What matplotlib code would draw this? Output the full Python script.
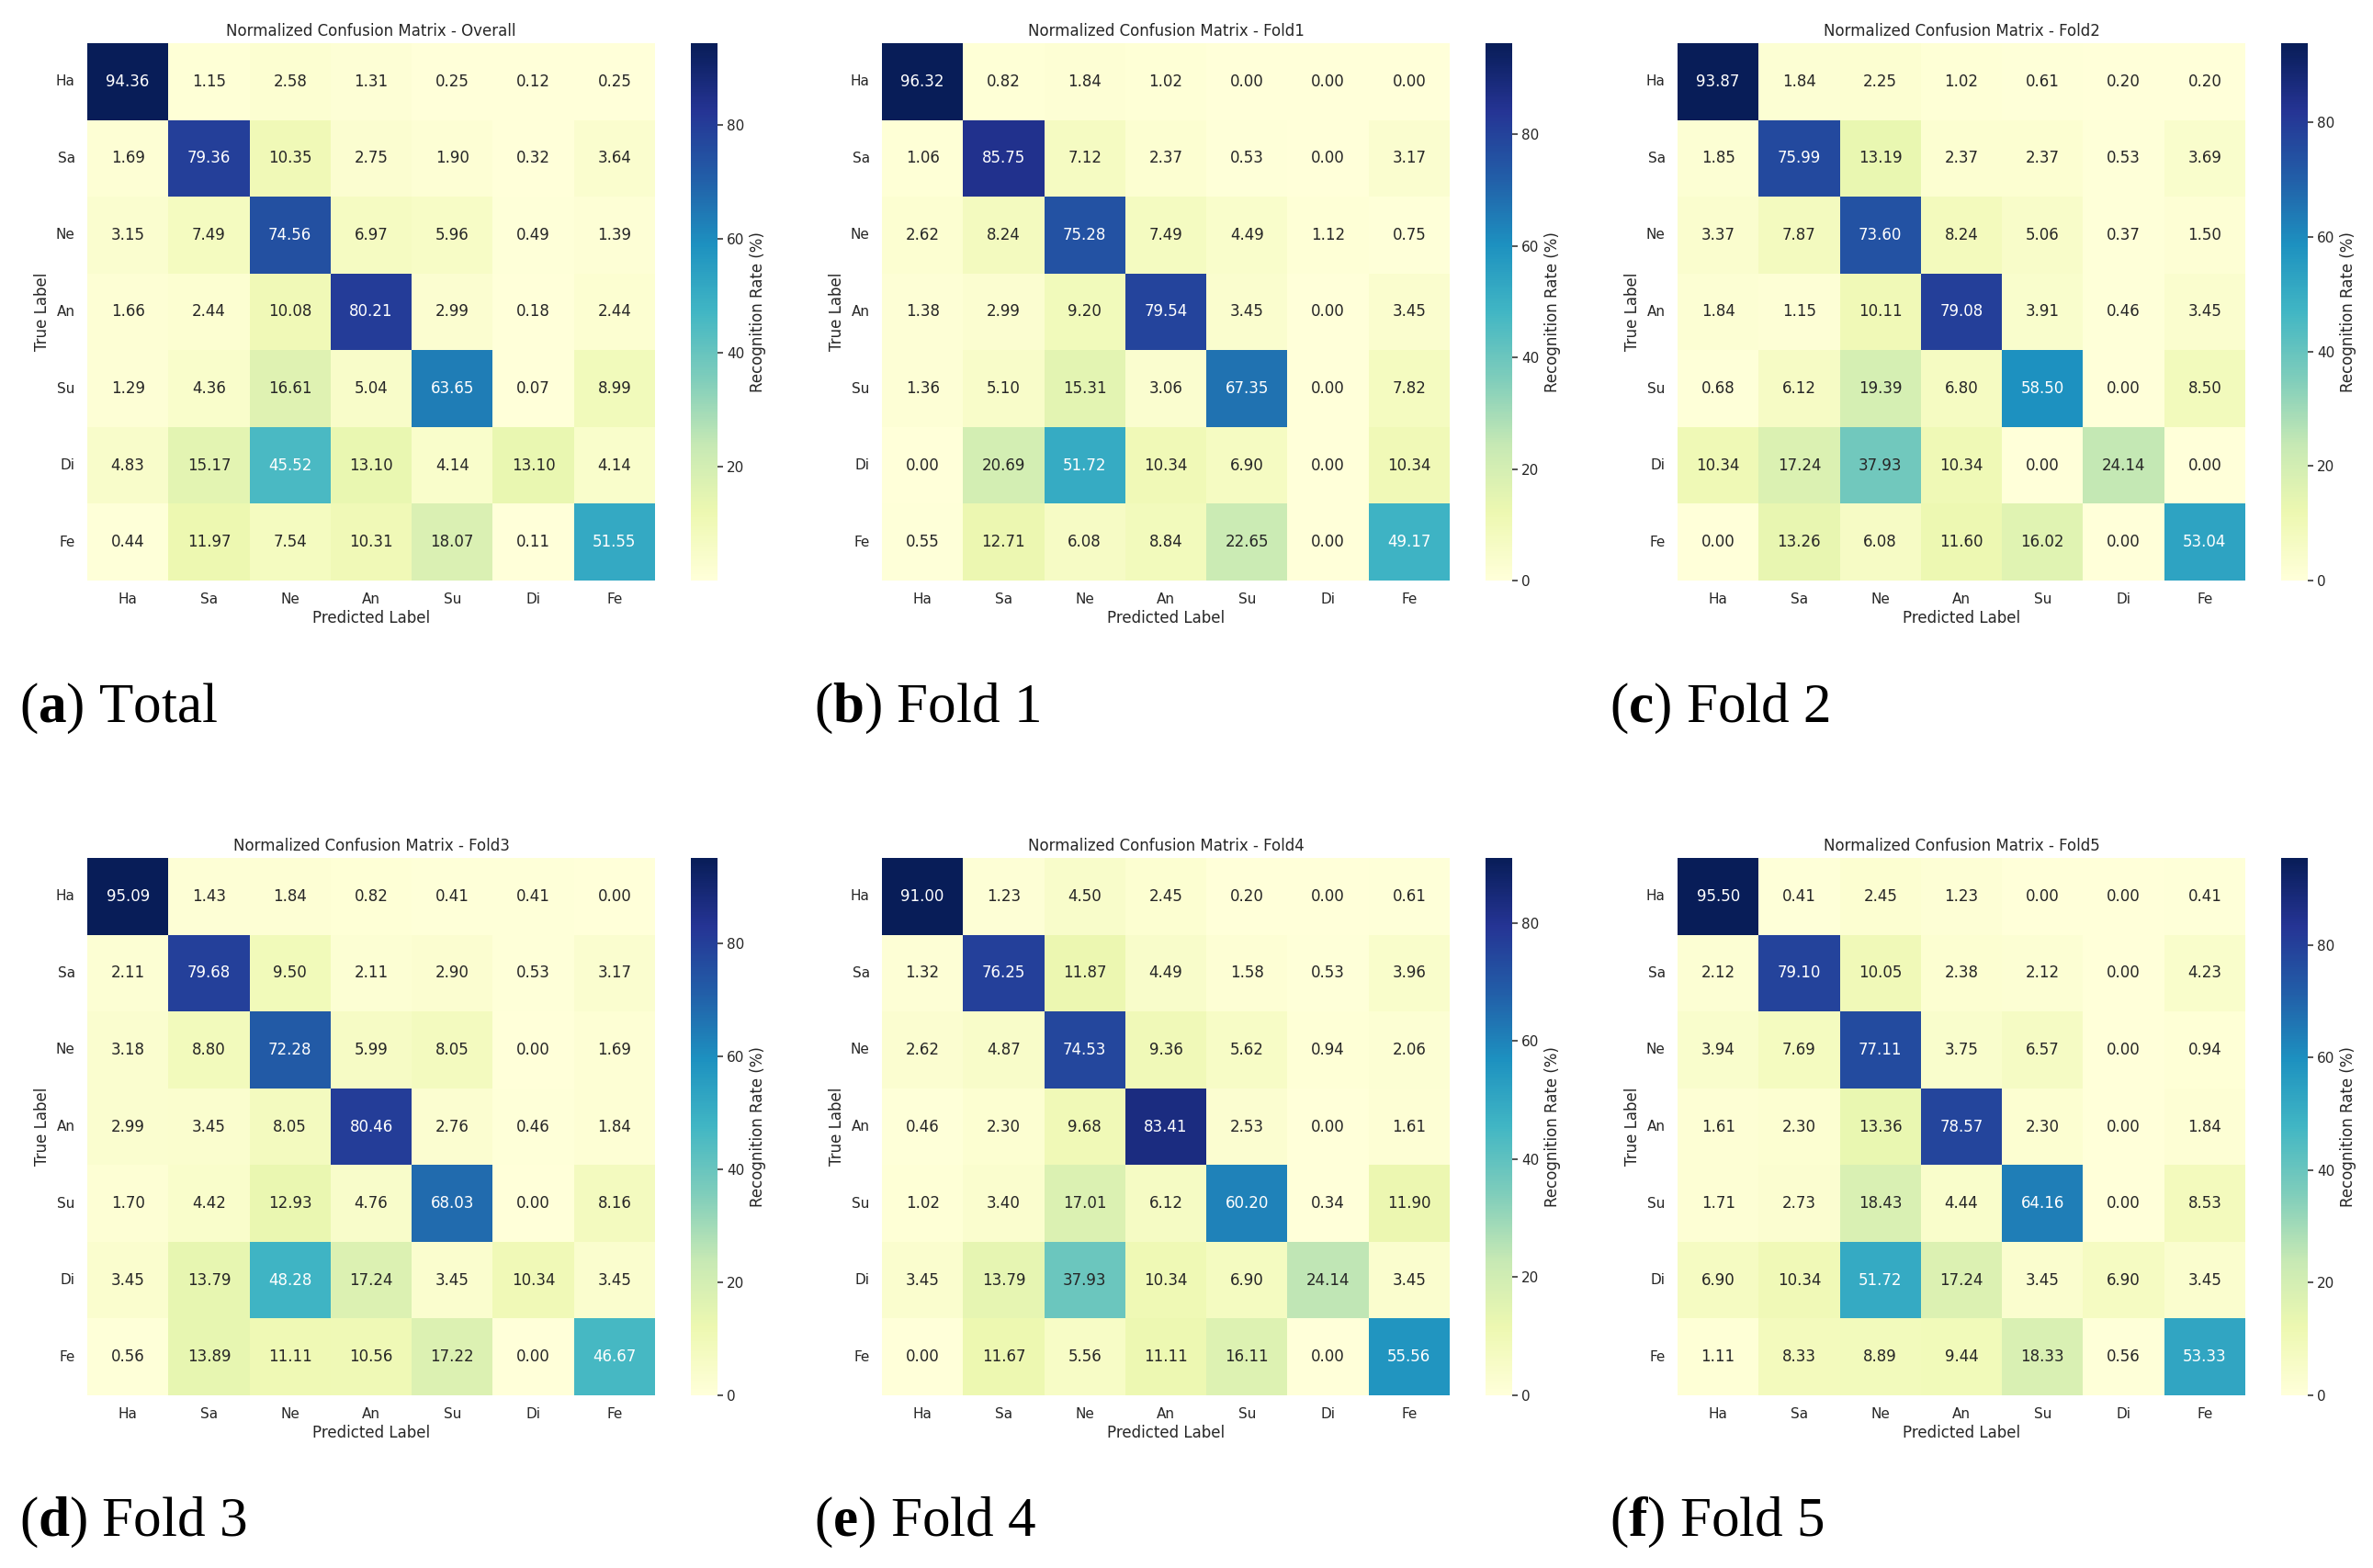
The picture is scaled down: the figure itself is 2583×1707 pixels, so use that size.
import numpy as np
import matplotlib
matplotlib.use("Agg")
import matplotlib.pyplot as plt
import seaborn as sns

labels = ["Ha", "Sa", "Ne", "An", "Su", "Di", "Fe"]

overall = [
    [94.36, 1.15, 2.58, 1.31, 0.25, 0.12, 0.25],
    [1.69, 79.36, 10.35, 2.75, 1.90, 0.32, 3.64],
    [3.15, 7.49, 74.56, 6.97, 5.96, 0.49, 1.39],
    [1.66, 2.44, 10.08, 80.21, 2.99, 0.18, 2.44],
    [1.29, 4.36, 16.61, 5.04, 63.65, 0.07, 8.99],
    [4.83, 15.17, 45.52, 13.10, 4.14, 13.10, 4.14],
    [0.44, 11.97, 7.54, 10.31, 18.07, 0.11, 51.55],
]
fold1 = [
    [96.32, 0.82, 1.84, 1.02, 0.00, 0.00, 0.00],
    [1.06, 85.75, 7.12, 2.37, 0.53, 0.00, 3.17],
    [2.62, 8.24, 75.28, 7.49, 4.49, 1.12, 0.75],
    [1.38, 2.99, 9.20, 79.54, 3.45, 0.00, 3.45],
    [1.36, 5.10, 15.31, 3.06, 67.35, 0.00, 7.82],
    [0.00, 20.69, 51.72, 10.34, 6.90, 0.00, 10.34],
    [0.55, 12.71, 6.08, 8.84, 22.65, 0.00, 49.17],
]
fold2 = [
    [93.87, 1.84, 2.25, 1.02, 0.61, 0.20, 0.20],
    [1.85, 75.99, 13.19, 2.37, 2.37, 0.53, 3.69],
    [3.37, 7.87, 73.60, 8.24, 5.06, 0.37, 1.50],
    [1.84, 1.15, 10.11, 79.08, 3.91, 0.46, 3.45],
    [0.68, 6.12, 19.39, 6.80, 58.50, 0.00, 8.50],
    [10.34, 17.24, 37.93, 10.34, 0.00, 24.14, 0.00],
    [0.00, 13.26, 6.08, 11.60, 16.02, 0.00, 53.04],
]
fold3 = [
    [95.09, 1.43, 1.84, 0.82, 0.41, 0.41, 0.00],
    [2.11, 79.68, 9.50, 2.11, 2.90, 0.53, 3.17],
    [3.18, 8.80, 72.28, 5.99, 8.05, 0.00, 1.69],
    [2.99, 3.45, 8.05, 80.46, 2.76, 0.46, 1.84],
    [1.70, 4.42, 12.93, 4.76, 68.03, 0.00, 8.16],
    [3.45, 13.79, 48.28, 17.24, 3.45, 10.34, 3.45],
    [0.56, 13.89, 11.11, 10.56, 17.22, 0.00, 46.67],
]
fold4 = [
    [91.00, 1.23, 4.50, 2.45, 0.20, 0.00, 0.61],
    [1.32, 76.25, 11.87, 4.49, 1.58, 0.53, 3.96],
    [2.62, 4.87, 74.53, 9.36, 5.62, 0.94, 2.06],
    [0.46, 2.30, 9.68, 83.41, 2.53, 0.00, 1.61],
    [1.02, 3.40, 17.01, 6.12, 60.20, 0.34, 11.90],
    [3.45, 13.79, 37.93, 10.34, 6.90, 24.14, 3.45],
    [0.00, 11.67, 5.56, 11.11, 16.11, 0.00, 55.56],
]
fold5 = [
    [95.50, 0.41, 2.45, 1.23, 0.00, 0.00, 0.41],
    [2.12, 79.10, 10.05, 2.38, 2.12, 0.00, 4.23],
    [3.94, 7.69, 77.11, 3.75, 6.57, 0.00, 0.94],
    [1.61, 2.30, 13.36, 78.57, 2.30, 0.00, 1.84],
    [1.71, 2.73, 18.43, 4.44, 64.16, 0.00, 8.53],
    [6.90, 10.34, 51.72, 17.24, 3.45, 6.90, 3.45],
    [1.11, 8.33, 8.89, 9.44, 18.33, 0.56, 53.33],
]

matrices = [overall, fold1, fold2, fold3, fold4, fold5]
titles = ["Normalized Confusion Matrix - Overall",
          "Normalized Confusion Matrix - Fold1",
          "Normalized Confusion Matrix - Fold2",
          "Normalized Confusion Matrix - Fold3",
          "Normalized Confusion Matrix - Fold4",
          "Normalized Confusion Matrix - Fold5"]
cap_letters = ["a", "b", "c", "d", "e", "f"]
cap_texts = ["Total", "Fold 1", "Fold 2", "Fold 3", "Fold 4", "Fold 5"]

plt.rcParams["font.family"] = ["DejaVu Sans"]
plt.rcParams["text.color"] = "0.15"
plt.rcParams["axes.labelcolor"] = "0.15"
plt.rcParams["xtick.color"] = "0.15"
plt.rcParams["ytick.color"] = "0.15"
plt.rcParams["mathtext.fontset"] = "custom"
plt.rcParams["mathtext.rm"] = "Liberation Serif"
plt.rcParams["mathtext.bf"] = "Liberation Serif:bold"

W, H = 2583, 1707
fig = plt.figure(figsize=(W / 100, H / 100), dpi=100)

col_left = [95, 960, 1826]
row_top = [47, 934]
hw, hh = 618, 585
cb_off, cb_w = 657, 28.5
cap_base = [786, 1672]

for i, (m, t) in enumerate(zip(matrices, titles)):
    r, c = divmod(i, 3)
    left = col_left[c]
    top = row_top[r]
    ax = fig.add_axes([left / W, 1 - (top + hh) / H, hw / W, hh / H])
    cax = fig.add_axes([(left + cb_off) / W, 1 - (top + hh) / H, cb_w / W, hh / H])
    data = np.array(m)
    sns.heatmap(data, ax=ax, cbar_ax=cax, cmap="YlGnBu", annot=True, fmt=".2f",
                annot_kws={"fontsize": 12},
                xticklabels=labels, yticklabels=labels,
                cbar_kws={"label": "Recognition Rate (%)"})
    ax.set_title(t, fontsize=12, pad=6)
    ax.set_xlabel("Predicted Label", fontsize=12, labelpad=3)
    ax.set_ylabel("True Label", fontsize=12, labelpad=4)
    ax.tick_params(axis="both", length=6, width=0, pad=3.5, labelsize=11)
    ax.tick_params(axis="x", bottom=False, labelbottom=True)
    ax.tick_params(axis="y", left=False, labelleft=True, labelrotation=0)
    ax.set_yticklabels(labels, rotation=0)
    cax.tick_params(labelsize=11, length=4.5, width=1.1, pad=3)
    cax.yaxis.label.set_size(12)
    fig.text((left - 74) / W, 1 - cap_base[r] / H,
             r"($\mathbf{%s}$) %s" % (cap_letters[i], cap_texts[i]),
             fontsize=44, family="Liberation Serif", color="black",
             va="baseline", ha="left")

fig.savefig("out.png", dpi=100, facecolor="white")
